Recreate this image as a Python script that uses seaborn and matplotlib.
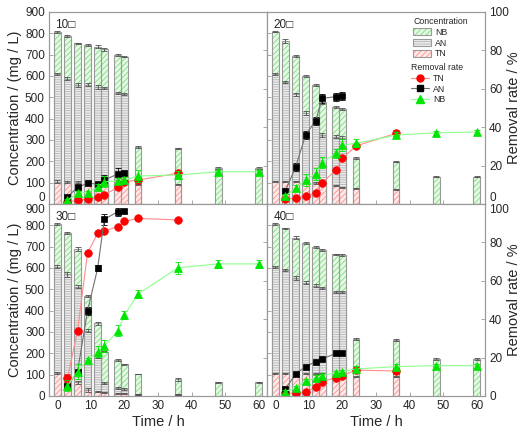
import matplotlib
matplotlib.use("Agg")
import matplotlib.pyplot as plt
import seaborn as sns
from matplotlib.patches import Patch
from matplotlib.lines import Line2D

# sampling times (h)
time = [0, 3, 6, 9, 12, 14, 18, 20, 24, 36, 48, 60]

# ---- 10 panel: concentrations (mg/L) ----
nb10 = [805, 788, 753, 745, 737, 725, 698, 690, 266, 261, 170, 170]
an10 = [609, 586, 558, 558, 550, 545, 519, 514]
tn10 = [105, 105, 105, 105, 100, 100, 100, 100, 92, 92]
nb10_err = [4, 3, 2, 5, 6, 8, 4, 3, 5, 3, 4, 4]
an10_err = [6, 7, 8, 7, 10, 5, 4, 4]
tn10_err = [8, 5, 5, 4, 4, 3, 3, 3, 3, 3]
# removal rates (%) from t = 3 h
tn10_rate = [1.0, 2.0, 2.6, 3.5, 4.7, 8.7, 11.6, 12.5, 16.0]
an10_rate = [3.8, 8.7, 10.8, 10.4, 12.5, 15.6, 16.3]
nb10_rate = [2.0, 5.6, 5.9, 8.7, 11.6, 12.0, 12.5, 14.6, 15.1, 16.8, 16.8]
tn10_rerr = [0.5, 0.5, 0.5, 0.5, 0.5, 1.0, 1.0, 1.0, 1.0]
an10_rerr = [1.0, 1.0, 1.0, 1.0, 2.5, 3.0, 1.0]
nb10_rerr = [0.5, 1.0, 1.0, 1.5, 3.0, 1.5, 1.5, 3.0, 2.0, 1.0, 1.0]

# ---- 20 panel ----
nb20 = [808, 764, 694, 600, 558, 480, 456, 444, 214, 198, 128, 128]
an20 = [609, 573, 514, 425, 386, 323, 316, 311]
tn20 = [107, 107, 107, 105, 100, 97, 86, 78, 73, 69]
nb20_err = [4, 10, 5, 5, 4, 12, 4, 5, 4, 3, 2, 2]
an20_err = [4, 4, 8, 10, 12, 10, 6, 6]
tn20_err = [3, 3, 3, 3, 4, 3, 2, 2, 3, 3]
tn20_rate = [2.5, 3.0, 4.3, 5.6, 11.1, 17.7, 23.8, 30.2, 36.8]
an20_rate = [6.9, 19.1, 35.9, 43.4, 55.0, 55.9, 56.3]
nb20_rate = [4.2, 8.2, 12.5, 15.6, 21.5, 26.4, 30.7, 31.6, 35.9, 37.1, 37.5]
tn20_rerr = [0.5, 0.5, 0.5, 1.0, 0.5, 0.5, 0.5, 1.0, 2.0]
an20_rerr = [1.0, 2.0, 2.0, 2.0, 2.5, 2.0, 2.0]
nb20_rerr = [1.0, 1.5, 3.0, 3.0, 3.0, 2.5, 3.0, 2.0, 1.5, 1.0, 1.0]

# ---- 30 panel ----
nb30 = [806, 763, 689, 470, 341, 208, 169, 149, 103, 78, 64, 64]
an30 = [606, 570, 513, 306, 187, 60, 36, 33, 8, 6]
tn30 = [106, 90, 64, 28, 20, 18, 12, 12, 6, 6]
nb30_err = [3, 5, 8, 4, 8, 4, 3, 3, 2, 8, 2, 2]
an30_err = [6, 10, 8, 6, 8, 6, 5, 4, 2, 2]
tn30_err = [5, 8, 6, 8, 3, 3, 3, 3, 2, 2]
tn30_rate = [9.2, 34.0, 74.5, 84.7, 85.9, 88.2, 91.0, 92.5, 91.7]
an30_rate = [5.0, 12.7, 44.4, 66.5, 92.0, 96.0, 96.4]
nb30_rate = [5.4, 12.7, 18.7, 23.1, 26.0, 34.0, 42.2, 53.1, 66.8, 68.8, 68.8]
tn30_rerr = [2.0, 1.0, 1.0, 1.0, 1.0, 1.0, 1.0, 1.0, 1.0]
an30_rerr = [1.0, 1.0, 2.0, 1.5, 3.0, 2.0, 1.0]
nb30_rerr = [3.0, 4.0, 1.0, 3.0, 3.0, 3.0, 2.0, 2.0, 3.0, 2.0, 2.0]

# ---- 40 panel ----
nb40 = [806, 786, 742, 716, 700, 684, 664, 661, 267, 262, 172, 172]
an40 = [606, 591, 552, 531, 517, 505, 489, 486]
tn40 = [106, 106, 105, 105, 104, 104, 98, 94, 91, 91]
nb40_err = [4, 3, 6, 4, 5, 3, 2, 3, 4, 3, 4, 4]
an40_err = [5, 5, 10, 8, 8, 4, 4, 4]
tn40_err = [3, 3, 3, 3, 3, 3, 2, 2, 2, 2]
tn40_rate = [1.5, 1.4, 2.3, 4.5, 7.5, 9.6, 10.6, 13.5, 13.0]
an40_rate = [3.6, 11.5, 15.3, 17.9, 19.3, 22.2, 22.2]
nb40_rate = [2.3, 4.3, 7.8, 9.2, 10.6, 12.2, 12.7, 14.1, 15.3, 15.8, 15.8]
tn40_rerr = [0.5, 0.5, 0.5, 1.0, 1.0, 1.0, 1.0, 1.0, 1.5]
an40_rerr = [1.0, 1.0, 1.0, 1.0, 1.0, 1.0, 1.0]
nb40_rerr = [1.0, 1.0, 1.0, 1.5, 1.0, 1.0, 1.0, 1.5, 1.5, 1.0, 1.0]

panel_labels = ["10\u25a1", "20\u25a1", "30\u25a1", "40\u25a1"]

EDGE = "#9a9a9a"
NB_FACE, NB_HATCH = "#e4fae4", "#7ddc7d"
AN_FACE, AN_HATCH = "#ececec", "#b4b4b4"
TN_FACE, TN_HATCH = "#ffe8e8", "#ff9090"

sns.set_style("ticks")
plt.rcParams["font.family"] = ["Liberation Sans", "DejaVu Sans"]
plt.rcParams["hatch.linewidth"] = 0.6
plt.rcParams["axes.edgecolor"] = EDGE
plt.rcParams["axes.linewidth"] = 0.8


def bars(ax, vals, errs, face, hcol, hatch):
    x = time[:len(vals)]
    sns.barplot(x=x, y=vals, native_scale=True, width=1.0, color=face, saturation=1,
                hatch=hatch, edgecolor=hcol, linewidth=0, errorbar=None, ax=ax)
    sns.barplot(x=x, y=vals, native_scale=True, width=1.0, fill=False, color=EDGE,
                linewidth=0.8, errorbar=None, ax=ax)
    ax.errorbar(x, vals, yerr=errs, fmt="none", ecolor="#505050",
                elinewidth=0.6, capsize=2, capthick=0.6)


def rate(ax, vals, errs, col, lcol, marker, ms):
    x = time[1:1 + len(vals)]
    ax.errorbar(x, vals, yerr=errs, fmt="none", ecolor=col,
                elinewidth=0.6, capsize=2, capthick=0.6)
    sns.lineplot(x=x, y=vals, ax=ax, color=lcol, linewidth=0.8, marker=marker,
                 markersize=ms, markerfacecolor=col, markeredgecolor=col,
                 markeredgewidth=0.5, errorbar=None)


panels = [
    (nb10, an10, tn10, nb10_err, an10_err, tn10_err,
     tn10_rate, an10_rate, nb10_rate, tn10_rerr, an10_rerr, nb10_rerr),
    (nb20, an20, tn20, nb20_err, an20_err, tn20_err,
     tn20_rate, an20_rate, nb20_rate, tn20_rerr, an20_rerr, nb20_rerr),
    (nb30, an30, tn30, nb30_err, an30_err, tn30_err,
     tn30_rate, an30_rate, nb30_rate, tn30_rerr, an30_rerr, nb30_rerr),
    (nb40, an40, tn40, nb40_err, an40_err, tn40_err,
     tn40_rate, an40_rate, nb40_rate, tn40_rerr, an40_rerr, nb40_rerr),
]

fig = plt.figure(figsize=(5.24, 4.32), dpi=100)
L, W = 49 / 524, 218 / 524
H = 192 / 432
positions = [(L, 1 - 204 / 432), (L + W, 1 - 204 / 432),
             (L, 1 - 396 / 432), (L + W, 1 - 396 / 432)]

for i, (data, pos) in enumerate(zip(panels, positions)):
    nb, an, tn, nbe, ane, tne, rtn, ran, rnb, rtne, rane, rnbe = data
    left = i % 2 == 0
    bottom = i >= 2

    ax = fig.add_axes([pos[0], pos[1], W, H])
    bars(ax, nb, nbe, NB_FACE, NB_HATCH, "//////")
    bars(ax, an, ane, AN_FACE, AN_HATCH, "-------")
    bars(ax, tn, tne, TN_FACE, TN_HATCH, "//////")
    ax.set_xlim(-2.5, 62.5)
    ax.set_ylim(0, 900)
    ax.set_xticks(range(0, 61, 10))
    ax.set_yticks(range(0, 901, 100))
    ax.tick_params(direction="in", length=3, width=0.6, color=EDGE, labelsize=8.5, pad=3)
    ax.tick_params(labelleft=left, labelbottom=bottom)
    ax.set_xlabel("Time / h" if bottom else "", fontsize=10.5, labelpad=2)
    ax.set_ylabel("Concentration / (mg / L)" if left else "", fontsize=10.5, labelpad=2)
    yt = ax.yaxis.get_major_ticks()
    if bottom:
        yt[-1].label1.set_verticalalignment("top")
    else:
        yt[0].label1.set_verticalalignment("bottom")

    ax2 = ax.twinx()
    rate(ax2, rtn, rtne, "#ff0000", "#ff8c8c", "o", 5.5)
    rate(ax2, ran, rane, "#000000", "#707070", "s", 5)
    rate(ax2, rnb, rnbe, "#00e600", "#8cff8c", "^", 6)
    ax2.set_ylim(0, 100)
    ax2.set_yticks(range(0, 101, 20))
    ax2.tick_params(direction="in", length=3, width=0.6, color=EDGE, labelsize=8.5, pad=3)
    ax2.tick_params(labelright=not left)
    for sp in ax2.spines.values():
        sp.set_color(EDGE)
    rt = ax2.yaxis.get_major_ticks()
    if bottom:
        rt[-1].label2.set_verticalalignment("top")
    else:
        rt[0].label2.set_verticalalignment("bottom")
    if not left:
        ax2.set_ylabel("Removal rate / %", fontsize=10.5)
        ax2.yaxis.set_label_coords(1.1, 0.5)
    ax.text(0.03, 0.965, panel_labels[i], transform=ax.transAxes, ha="left", va="top",
            fontsize=8.5)

    if i == 1:
        conc_handles = [
            (Patch(facecolor=NB_FACE, edgecolor=NB_HATCH, hatch="//////", linewidth=0),
             Patch(fill=False, edgecolor=EDGE, linewidth=0.8)),
            (Patch(facecolor=AN_FACE, edgecolor=AN_HATCH, hatch="-------", linewidth=0),
             Patch(fill=False, edgecolor=EDGE, linewidth=0.8)),
            (Patch(facecolor=TN_FACE, edgecolor=TN_HATCH, hatch="//////", linewidth=0),
             Patch(fill=False, edgecolor=EDGE, linewidth=0.8)),
        ]
        leg1 = ax2.legend(conc_handles, ["NB", "AN", "TN"], title="Concentration",
                          loc="upper left", bbox_to_anchor=(413 / 524, 1 - 17 / 432),
                          bbox_transform=fig.transFigure, frameon=False, fontsize=6.3,
                          title_fontsize=6.3, alignment="left", borderpad=0,
                          borderaxespad=0, handlelength=2.1, handleheight=0.9,
                          labelspacing=0.2, handletextpad=0.4)
        ax2.add_artist(leg1)
        rate_handles = [
            Line2D([], [], color="#ff8c8c", lw=0.8, marker="o", ms=5,
                   mfc="#ff0000", mec="#ff0000"),
            Line2D([], [], color="#707070", lw=0.8, marker="s", ms=4.5,
                   mfc="#000000", mec="#000000"),
            Line2D([], [], color="#8cff8c", lw=0.8, marker="^", ms=5.5,
                   mfc="#00e600", mec="#00e600"),
        ]
        ax2.legend(rate_handles, ["TN", "AN", "NB"], title="Removal rate",
                   loc="upper left", bbox_to_anchor=(411 / 524, 1 - 63 / 432),
                   bbox_transform=fig.transFigure, frameon=False, fontsize=6.3,
                   title_fontsize=6.3, alignment="left", borderpad=0,
                   borderaxespad=0, handlelength=2.1, labelspacing=0.2,
                   handletextpad=0.4)

fig.savefig("out.png", dpi=100)
